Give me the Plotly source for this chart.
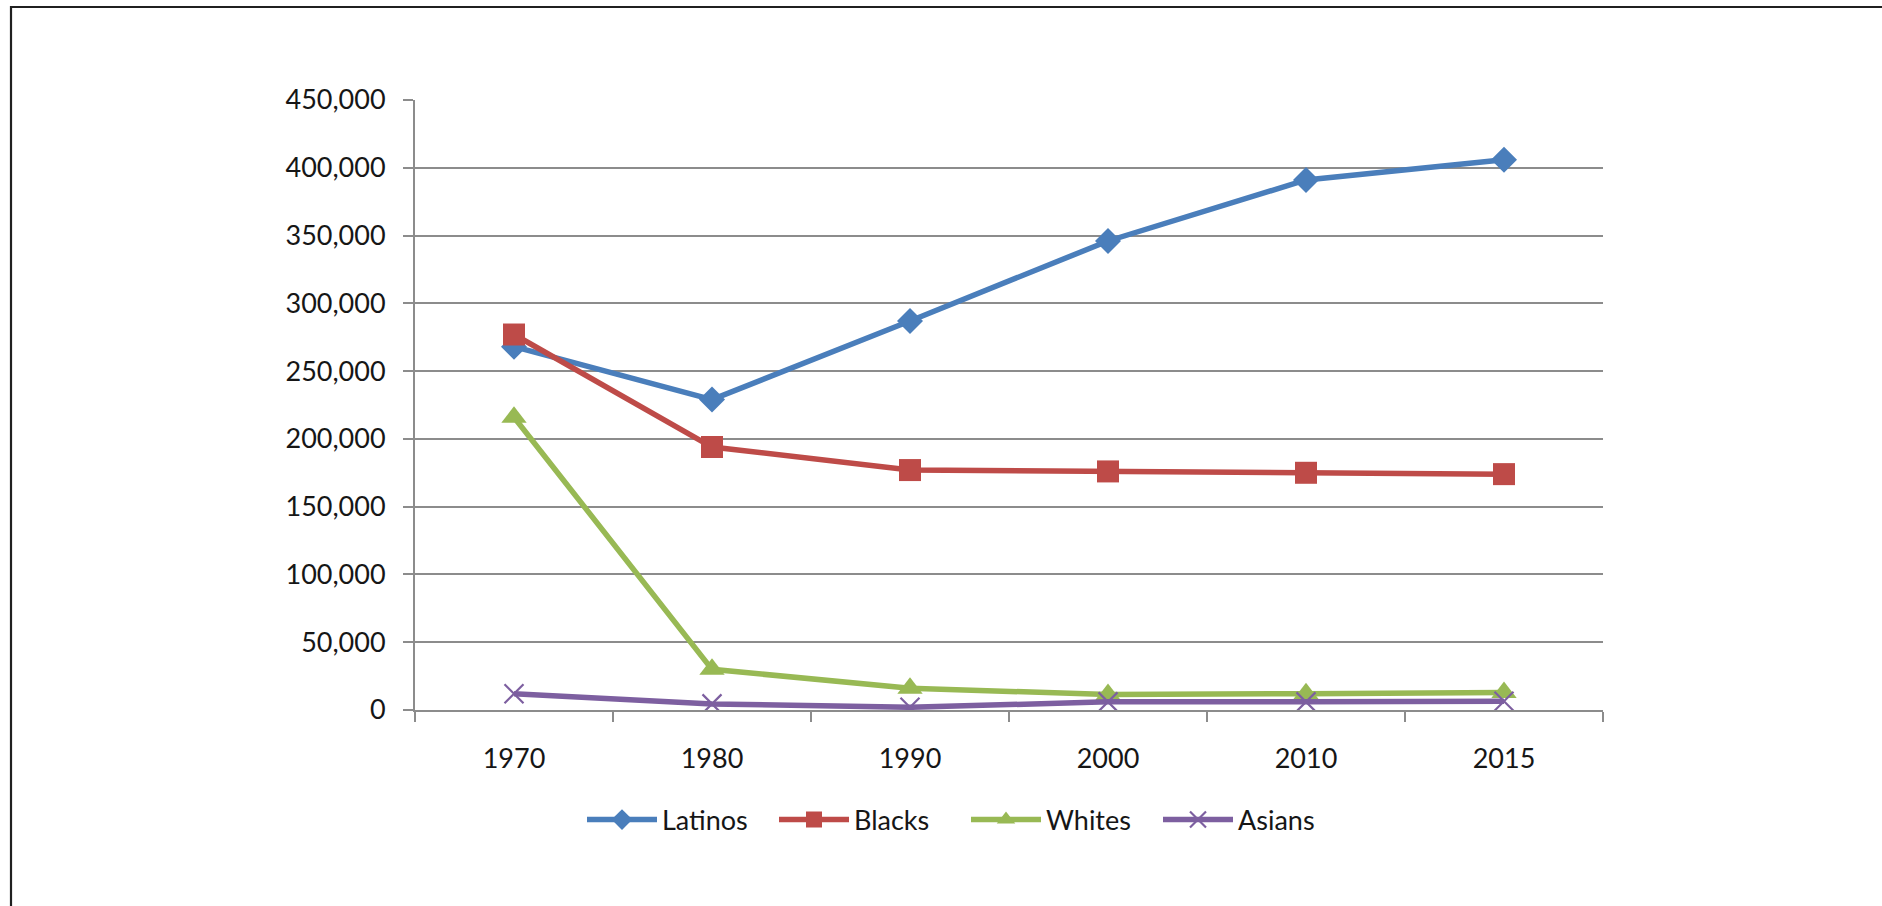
import plotly.graph_objects as go

# Census years (category axis)
years = ["1970", "1980", "1990", "2000", "2010", "2015"]

# Population by group
latinos = [268000, 229000, 287000, 346000, 391000, 406000]
blacks = [277000, 194000, 177000, 176000, 175000, 174000]
whites = [216000, 30000, 16000, 11500, 12000, 13000]
asians = [12000, 4500, 2000, 6000, 6000, 6500]

y_ticks = [0, 50000, 100000, 150000, 200000, 250000, 300000, 350000, 400000, 450000]

BLUE = "#4A7EBB"
RED = "#BE4B48"
GREEN = "#98B954"
PURPLE = "#7D5FA0"
GRID = "#8C8C8C"
TEXT = "#161616"
FONT = "Lato, 'Open Sans', sans-serif"

fig = go.Figure()

fig.add_trace(go.Scatter(
    x=years, y=latinos, name="Latinos", mode="lines+markers",
    line=dict(color=BLUE, width=5.5),
    marker=dict(symbol="diamond", size=20, color=BLUE),
))
fig.add_trace(go.Scatter(
    x=years, y=blacks, name="Blacks", mode="lines+markers",
    line=dict(color=RED, width=5.5),
    marker=dict(symbol="square", size=22, color=RED),
))
fig.add_trace(go.Scatter(
    x=years, y=whites, name="Whites", mode="lines+markers",
    line=dict(color=GREEN, width=5.5),
    marker=dict(symbol="triangle-up", size=22, color=GREEN),
))
fig.add_trace(go.Scatter(
    x=years, y=asians, name="Asians", mode="lines+markers",
    line=dict(color=PURPLE, width=5.5),
    marker=dict(symbol="x-thin-open", size=19, color=PURPLE,
                line=dict(color=PURPLE, width=2.2)),
))

# Plot area geometry in pixels, used to place the outer frame and legend
W, H = 1882, 906
L, R, T, B = 415, 279, 100, 196
pw, ph = W - L - R, H - T - B


def px_x(px):
    return (px - L) / pw


def px_y(py):
    return (H - B - py) / ph


fig.add_shape(
    type="rect", xref="paper", yref="paper",
    x0=px_x(11), x1=px_x(W + 20), y0=px_y(H + 20), y1=px_y(7),
    line=dict(color="#202020", width=2.2), fillcolor="rgba(0,0,0,0)",
    layer="below",
)

fig.update_layout(
    width=W, height=H,
    margin=dict(l=L, r=R, t=T, b=B, pad=0),
    paper_bgcolor="white", plot_bgcolor="white",
    font=dict(family=FONT, size=27, color=TEXT),
    showlegend=True,
    legend=dict(
        orientation="h", x=px_x(582), xanchor="left",
        y=px_y(820), yanchor="middle",
        font=dict(family=FONT, size=27, color=TEXT),
        itemwidth=70, entrywidth=107, entrywidthmode="pixels",
        bgcolor="rgba(0,0,0,0)",
    ),
    xaxis=dict(
        type="category", range=[-0.5, 5.5],
        showgrid=False, showline=True, linecolor=GRID, linewidth=2,
        ticks="outside", tickson="boundaries", ticklen=10, tickwidth=2,
        tickcolor=GRID, ticklabelstandoff=24,
        tickfont=dict(family=FONT, size=27, color=TEXT),
        zeroline=False,
    ),
    yaxis=dict(
        range=[0, 450000], tickvals=y_ticks, tickformat=",d",
        showgrid=True, gridcolor=GRID, gridwidth=2,
        showline=True, linecolor=GRID, linewidth=2,
        ticks="outside", ticklen=10, tickwidth=2, tickcolor=GRID,
        ticklabelstandoff=12,
        tickfont=dict(family=FONT, size=27, color=TEXT),
        zeroline=False,
    ),
)

fig.write_html("out.html")
